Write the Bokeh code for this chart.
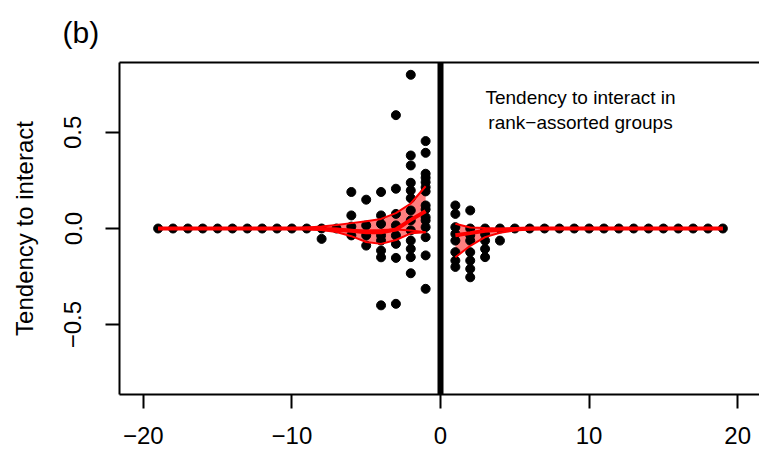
import math
from bokeh.plotting import figure
from bokeh.models import Range1d, FixedTicker, Span, Label, LinearAxis, Title
from bokeh.embed import file_html
from bokeh.resources import INLINE

FONT = "Liberation Sans"

# Rank offsets where every observation sits at zero
zero_offsets = list(range(-19, -8)) + list(range(5, 20))

# Observed tendencies at the offsets close to the focal rank
y_m8 = [0.0, -0.054]
y_m7 = [0.0]
y_m6 = [0.19, 0.068, 0.01, -0.036]
y_m5 = [0.15, 0.016, -0.036, -0.089]
y_m4 = [0.19, 0.068, 0.024, -0.036, -0.063, -0.115, -0.15, -0.40]
y_m3 = [0.59, 0.207, 0.076, 0.016, -0.036, -0.08, -0.153, -0.392]
y_m2 = [0.80, 0.38, 0.328, 0.238, 0.198, 0.158, 0.094, 0.042, -0.01,
        -0.063, -0.106, -0.149, -0.233]
y_m1 = [0.455, 0.394, 0.285, 0.264, 0.241, 0.215, 0.193, 0.12, 0.10,
        0.059, 0.042, 0.007, -0.045, -0.14, -0.314]
y_p1 = [0.12, 0.076, 0.007, -0.028, -0.063, -0.123, -0.167, -0.2]
y_p2 = [0.094, 0.0, -0.035, -0.063, -0.123, -0.167, -0.21, -0.254]
y_p3 = [0.0, -0.03, -0.063, -0.106, -0.149]
y_p4 = [0.0, -0.063]

near_groups = [(-8, y_m8), (-7, y_m7), (-6, y_m6), (-5, y_m5), (-4, y_m4),
               (-3, y_m3), (-2, y_m2), (-1, y_m1), (1, y_p1), (2, y_p2),
               (3, y_p3), (4, y_p4)]

# Fitted curves with their confidence band (lower offsets)
curve_x_left = list(range(-19, 0))
upper_left = [0.0] * 10 + [0.005, 0.01, 0.018, 0.028, 0.038, 0.05, 0.08, 0.13, 0.22]
mean_left = [0.0] * 11 + [-0.002, -0.006, -0.012, -0.02, -0.02, -0.005, 0.045, 0.09]
lower_left = [0.0] * 10 + [-0.003, -0.008, -0.018, -0.04, -0.07, -0.08, -0.06, -0.025, -0.02]
inner_left = [0.0] * 13 + [-0.008, -0.01, -0.008, -0.005, -0.01, -0.02]

# Fitted curves with their confidence band (higher offsets)
curve_x_right = list(range(1, 20))
upper_right = [0.025, 0.005, 0.002] + [0.0] * 16
mean_right = [-0.035, -0.024, -0.012, -0.006, -0.003] + [0.0] * 14
lower_right = [-0.15, -0.09, -0.045, -0.022, -0.011, -0.005, -0.002] + [0.0] * 12

x_ticks = [-20, -10, 0, 10, 20]
y_ticks = [-0.5, 0.0, 0.5]
y_tick_labels = ["\u22120.5", "0.0", "0.5"]

# Assemble scatter columns
pts_x, pts_y = [], []
for off in zero_offsets:
    pts_x.append(off)
    pts_y.append(0.0)
for off, vals in near_groups:
    pts_x.extend([off] * len(vals))
    pts_y.extend(vals)

# Plot frame: x spans +-21.6 over 642 px, right side trimmed by the canvas edge
frame_left, frame_right = 119, 759
px_per_unit = 642 / 43.2
x_start = -21.6
x_end = x_start + (frame_right - frame_left) / px_per_unit

p = figure(width=759, height=459, output_backend="svg", toolbar_location=None,
           x_range=Range1d(x_start, x_end), y_range=Range1d(-0.864, 0.864),
           min_border_left=frame_left, min_border_right=0,
           min_border_top=62, min_border_bottom=65)
p.outline_line_color = None
p.background_fill_color = "white"
p.border_fill_color = "white"
p.xgrid.grid_line_color = None
p.ygrid.grid_line_color = None

p.title = Title(text="(b)", align="left", text_font=FONT, text_font_size="30px",
                text_font_style="normal", text_color="black", offset=-57, standoff=27)

# Bottom axis
xa = p.xaxis[0]
xa.ticker = FixedTicker(ticks=x_ticks)
xa.major_label_overrides = {t: (("\u2212" + str(abs(t))) if t < 0 else str(t)) for t in x_ticks}
xa.major_tick_out = 14
xa.major_tick_in = 0
xa.minor_tick_line_color = None
xa.major_label_standoff = 18
xa.major_label_text_font = FONT
xa.major_label_text_font_size = "24px"
xa.major_label_text_color = "black"
xa.axis_line_width = 2
xa.major_tick_line_width = 2
xa.axis_line_color = "black"

# Left axis
ya = p.yaxis[0]
ya.ticker = FixedTicker(ticks=y_ticks)
ya.major_label_overrides = dict(zip(y_ticks, y_tick_labels))
ya.major_label_orientation = "parallel"
ya.major_tick_out = 14
ya.major_tick_in = 0
ya.minor_tick_line_color = None
ya.major_label_standoff = 24
ya.major_label_text_font = FONT
ya.major_label_text_font_size = "24px"
ya.major_label_text_color = "black"
ya.axis_label = "Tendency to interact"
ya.axis_label_text_font = FONT
ya.axis_label_text_font_size = "24px"
ya.axis_label_text_font_style = "normal"
ya.axis_label_text_color = "black"
ya.axis_label_standoff = 24
ya.axis_line_width = 2
ya.major_tick_line_width = 2

# Top border of the box
top = LinearAxis(ticker=FixedTicker(ticks=[]), major_tick_out=0, major_tick_in=0,
                 minor_tick_line_color=None, major_label_text_font_size="0px",
                 axis_line_width=2, axis_line_color="black")
p.add_layout(top, "above")

# Confidence bands
p.varea(x=curve_x_left, y1=lower_left, y2=upper_left, fill_color="red", fill_alpha=0.5)
p.varea(x=curve_x_right, y1=lower_right, y2=upper_right, fill_color="red", fill_alpha=0.5)

# Observations
p.scatter(pts_x, pts_y, size=9, color="black")

# Fitted curves
for xs, ys, w in [(curve_x_left, upper_left, 2), (curve_x_left, lower_left, 2),
                  (curve_x_left, inner_left, 2), (curve_x_left, mean_left, 4),
                  (curve_x_right, upper_right, 2), (curve_x_right, lower_right, 2),
                  (curve_x_right, mean_right, 4)]:
    p.line(xs, ys, line_color="red", line_width=w)

# Focal rank marker
p.add_layout(Span(location=0, dimension="height", line_color="black", line_width=6))

p.add_layout(Label(x=9.42, y=0.682, text="Tendency to interact in", text_align="center",
                   text_baseline="middle", text_font=FONT, text_font_size="19px",
                   text_color="black"))
p.add_layout(Label(x=9.42, y=0.552, text="rank\u2212assorted groups", text_align="center",
                   text_baseline="middle", text_font=FONT, text_font_size="19px",
                   text_color="black"))

open("out.html", "w").write(file_html(p, INLINE))
